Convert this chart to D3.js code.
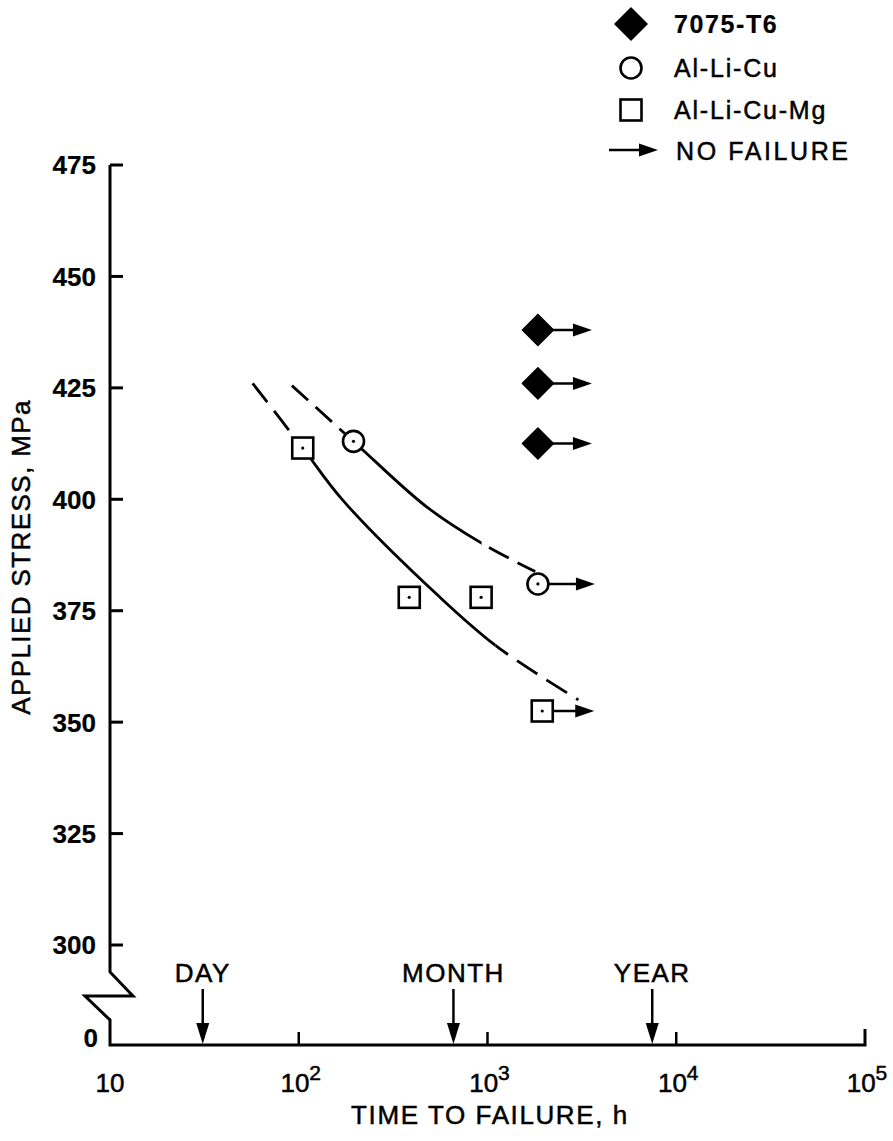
<!DOCTYPE html>
<html><head><meta charset="utf-8">
<script src="https://cdn.jsdelivr.net/npm/d3@7"></script>
<style>
html,body{margin:0;padding:0;background:#fff;}
svg text{font-family:"Liberation Sans",Arial,Helvetica,sans-serif;fill:#000;stroke:#000;stroke-width:0.5px;}
</style></head><body>
<svg id="chart" width="893" height="1141"></svg>
<script>
// ---------- data ----------
const timeTicks = [10, 100, 1000, 10000, 100000];
const timeTickExp = [1, 2, 3, 4, 5];
const stressTicks = [300, 325, 350, 375, 400, 425, 450, 475];
const breakLabel = "0";

const seriesNames = ["7075-T6", "Al-Li-Cu", "Al-Li-Cu-Mg"];
const t7075 = [1850, 1850, 1850];
const s7075 = [438, 426, 412.5];
const nf7075 = [true, true, true];

const tAlLiCu = [195, 1850];
const sAlLiCu = [413, 381];
const nfAlLiCu = [false, true];

const tAlLiCuMg = [105, 385, 925, 1950];
const sAlLiCuMg = [411.5, 378, 378, 352.5];
const nfAlLiCuMg = [false, false, false, true];

// hand-drawn trend curves
const curveAlLiCuT = [92, 195, 476, 970, 1790];
const curveAlLiCuS = [425.5, 413, 398.3, 389.7, 383.8];
const solidAlLiCu = [205, 930];
const curveAlLiCuMgT = [57, 105, 171, 560, 1119, 3030];
const curveAlLiCuMgS = [426, 411.5, 399.8, 378, 367, 355];
const solidAlLiCuMg = [112, 1100];

const milestoneLabels = ["DAY", "MONTH", "YEAR"];
const milestoneHours = [31, 660, 7460];

const xTitle = "TIME TO FAILURE, h";
const yTitle = "APPLIED STRESS, MPa";
const noFailureLabel = "NO FAILURE";

// ---------- layout ----------
const W = 893, H = 1141;
const svg = d3.select("#chart");
const x = d3.scaleLog().domain([10, 1e5]).range([110, 865]);
const y = d3.scaleLinear().domain([300, 475]).range([945, 165]);
const zeroY = 1045;
const ax = x(10);
const SW = 3;

// axes with break
const axisPath = d3.path();
axisPath.moveTo(ax, y(475));
axisPath.lineTo(ax, y(300) + 27);
axisPath.lineTo(ax + 23, y(300) + 51);
axisPath.lineTo(ax - 25, y(300) + 51);
axisPath.lineTo(ax, y(300) + 75);
axisPath.lineTo(ax, zeroY);
axisPath.lineTo(x(1e5), zeroY);
axisPath.lineTo(x(1e5), zeroY - 16);
svg.append("path").attr("d", axisPath.toString()).attr("fill", "none")
  .attr("stroke", "#000").attr("stroke-width", SW).attr("stroke-linejoin", "miter");

// y ticks
svg.selectAll(".ytick").data(stressTicks).enter().append("line")
  .attr("x1", ax).attr("x2", ax + 13).attr("y1", d => y(d)).attr("y2", d => y(d))
  .attr("stroke", "#000").attr("stroke-width", SW);
svg.selectAll(".ylab").data(stressTicks).enter().append("text")
  .attr("x", ax - 14).attr("y", d => y(d)).attr("dy", "0.36em")
  .attr("text-anchor", "end").attr("font-size", 26).attr("font-weight", "bold")
  .style("stroke-width", "0.2px")
  .text(d => d);
svg.append("text").attr("x", ax - 12).attr("y", zeroY - 7).attr("dy", "0.36em")
  .attr("text-anchor", "end").attr("font-size", 26).attr("font-weight", "bold")
  .style("stroke-width", "0.2px").text(breakLabel);

// x ticks
svg.selectAll(".xtick").data(timeTicks.slice(1, 4)).enter().append("line")
  .attr("x1", d => x(d)).attr("x2", d => x(d)).attr("y1", zeroY).attr("y2", zeroY - 13)
  .attr("stroke", "#000").attr("stroke-width", 2.5);
timeTicks.forEach((v, i) => {
  const t = svg.append("text").attr("x", x(v) + (i === 0 ? 0 : 2)).attr("y", 1092)
    .attr("text-anchor", "middle").attr("font-size", 26);
  t.append("tspan").text("10");
  if (timeTickExp[i] > 1) {
    t.append("tspan").attr("font-size", 21).attr("dy", -12).text(timeTickExp[i]);
  }
});

// titles
svg.append("text").attr("x", 490).attr("y", 1124).attr("text-anchor", "middle")
  .attr("font-size", 26).attr("letter-spacing", 1.6).text(xTitle);
svg.append("text").attr("transform", "translate(30,557) rotate(-90)")
  .attr("text-anchor", "middle").attr("font-size", 26).attr("letter-spacing", 1.4).text(yTitle);

// milestones
milestoneHours.forEach((h, i) => {
  const mx = x(h);
  svg.append("text").attr("x", mx).attr("y", 982).attr("text-anchor", "middle")
    .attr("font-size", 26).attr("letter-spacing", 1.5).text(milestoneLabels[i]);
  svg.append("line").attr("x1", mx).attr("x2", mx).attr("y1", 989).attr("y2", zeroY - 18)
    .attr("stroke", "#000").attr("stroke-width", 2.5);
  svg.append("path").attr("d", `M${mx},${zeroY - 1} L${mx - 6.5},${zeroY - 22} L${mx + 6.5},${zeroY - 22} Z`)
    .attr("fill", "#000");
});

// curves
const lineGen = d3.line().x(d => x(d[0])).y(d => y(d[1])).curve(d3.curveCatmullRom.alpha(0.5));
const defs = svg.append("defs");
function drawCurve(ts, ss, solid, id, dash) {
  const pts = ts.map((t, i) => [t, ss[i]]);
  defs.append("clipPath").attr("id", id + "s").append("rect")
    .attr("x", x(solid[0])).attr("y", 0).attr("width", x(solid[1]) - x(solid[0])).attr("height", H);
  const cd = defs.append("clipPath").attr("id", id + "d");
  cd.append("rect").attr("x", 0).attr("y", 0).attr("width", x(solid[0])).attr("height", H);
  cd.append("rect").attr("x", x(solid[1])).attr("y", 0).attr("width", W - x(solid[1])).attr("height", H);
  svg.append("path").attr("d", lineGen(pts)).attr("fill", "none").attr("stroke", "#000")
    .attr("stroke-width", 2.8).attr("clip-path", `url(#${id}s)`);
  svg.append("path").attr("d", lineGen(pts)).attr("fill", "none").attr("stroke", "#000")
    .attr("stroke-width", 2.8).attr("stroke-dasharray", dash).attr("clip-path", `url(#${id}d)`);
}
drawCurve(curveAlLiCuMgT, curveAlLiCuMgS, solidAlLiCuMg, "cmg", "24,11");
drawCurve(curveAlLiCuT, curveAlLiCuS, solidAlLiCu, "cu", "22,10");

// arrows
function hArrow(x1, yy, x2) {
  svg.append("line").attr("x1", x1).attr("x2", x2 - 12).attr("y1", yy).attr("y2", yy)
    .attr("stroke", "#000").attr("stroke-width", 2.5);
  svg.append("path").attr("d", `M${x2},${yy} L${x2 - 19},${yy - 6.5} L${x2 - 19},${yy + 6.5} Z`).attr("fill", "#000");
}

// markers
function diamond(cx, cy, r) {
  svg.append("path").attr("d", `M${cx},${cy - r} L${cx + r},${cy} L${cx},${cy + r} L${cx - r},${cy} Z`)
    .attr("fill", "#000").attr("stroke", "#000").attr("stroke-width", 1.5).attr("stroke-linejoin", "round");
}
function circ(cx, cy, dot) {
  svg.append("circle").attr("cx", cx).attr("cy", cy).attr("r", 10.5)
    .attr("fill", "#fff").attr("stroke", "#000").attr("stroke-width", 2.6);
  if (dot) svg.append("circle").attr("cx", cx).attr("cy", cy).attr("r", 1.6).attr("fill", "#000");
}
function sq(cx, cy, dot) {
  svg.append("rect").attr("x", cx - 10.5).attr("y", cy - 10.5).attr("width", 21).attr("height", 21)
    .attr("fill", "#fff").attr("stroke", "#000").attr("stroke-width", 2.6);
  if (dot) svg.append("circle").attr("cx", cx).attr("cy", cy).attr("r", 1.6).attr("fill", "#000");
}

t7075.forEach((t, i) => {
  const cx = x(t), cy = y(s7075[i]);
  if (nf7075[i]) hArrow(cx + 8, cy, cx + 54);
  diamond(cx, cy, 15.5);
});
tAlLiCu.forEach((t, i) => {
  const cx = x(t), cy = y(sAlLiCu[i]);
  if (nfAlLiCu[i]) hArrow(cx + 10, cy, cx + 57);
  circ(cx, cy, true);
});
tAlLiCuMg.forEach((t, i) => {
  const cx = x(t), cy = y(sAlLiCuMg[i]);
  if (nfAlLiCuMg[i]) hArrow(cx + 10, cy, cx + 52);
  sq(cx, cy, true);
});

// legend
const lgX = 631, lgT = 674;
diamond(lgX, 24, 16);
svg.append("text").attr("x", lgT).attr("y", 33).attr("font-size", 25).attr("font-weight", "bold")
  .attr("letter-spacing", 1.6).style("stroke-width", "0.2px").text(seriesNames[0]);
circ(lgX, 68, false);
svg.append("text").attr("x", lgT).attr("y", 77).attr("font-size", 25)
  .attr("letter-spacing", 1.8).text(seriesNames[1]);
sq(lgX, 110, false);
svg.append("text").attr("x", lgT).attr("y", 119).attr("font-size", 25)
  .attr("letter-spacing", 1.8).text(seriesNames[2]);
hArrow(609, 150, 658);
svg.append("text").attr("x", lgT + 2).attr("y", 160).attr("font-size", 25)
  .attr("letter-spacing", 2.6).text(noFailureLabel);
</script></body></html>
